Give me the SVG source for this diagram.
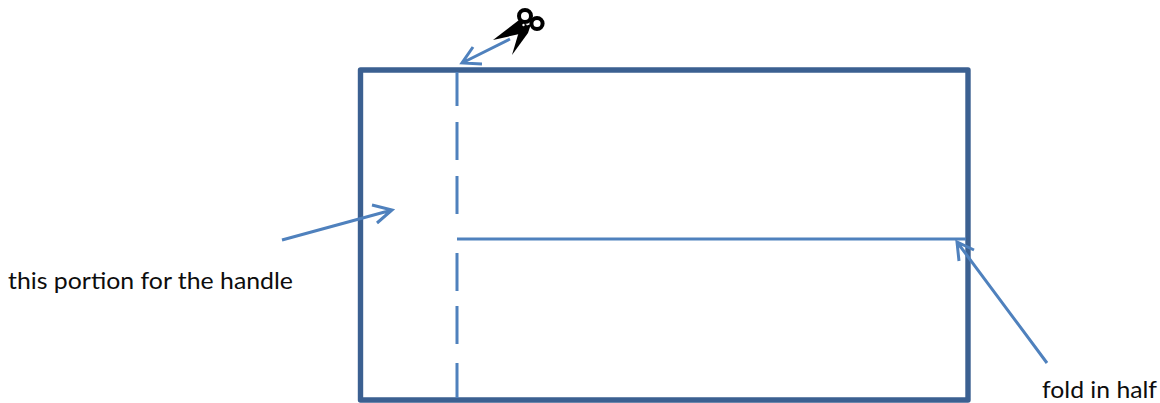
<svg xmlns="http://www.w3.org/2000/svg" width="1160" height="403" viewBox="0 0 1160 403">
<style>
.ln{fill:none;stroke:#4f81bd;stroke-width:3;stroke-linecap:butt;stroke-linejoin:miter}
.t{font-family:"Lato","Open Sans",sans-serif;font-size:24px;fill:#0d0d0d}
.s{font-size:23px}
</style>
<rect width="1160" height="403" fill="#fff"/>
<g id="sheet"><rect x="360.5" y="70" width="607.5" height="330" fill="none" stroke="#3b6091" stroke-width="5.4" stroke-linejoin="round"/></g>
<g id="connectors">
<path class="ln" d="M457 72V106M457 122V160M457 176V214M457 253V291M457 306V344M457 363V398"/>
<path class="ln" d="M457 239H966"/>
<path class="ln" d="M510 39L462 63M473 47L462 63L482 64"/>
<path class="ln" d="M282 240L392 210M372 205L392 210L377 223"/>
<path class="ln" d="M1047 363L957 242M959 261L957 242L974 250"/>
</g>
<g id="scissors">
<circle cx="525" cy="16" r="6" fill="#fff" stroke="#000" stroke-width="4"/>
<circle cx="537" cy="23.5" r="5.6" fill="#fff" stroke="#000" stroke-width="4"/>
<path d="M493 40L519 20L527 25L524 33Z" fill="#000"/>
<path d="M512 55L520 28L531 24L528 33Z" fill="#000"/>
<circle cx="523.5" cy="25" r="1.2" fill="#fff"/>
</g>
<g id="label-handle"><text class="t" x="8" y="289" textLength="285" lengthAdjust="spacingAndGlyphs">this portion for the handle</text></g>
<g id="label-fold"><text class="t s" x="1042" y="398" textLength="115" lengthAdjust="spacingAndGlyphs">fold in half</text></g>
</svg>
